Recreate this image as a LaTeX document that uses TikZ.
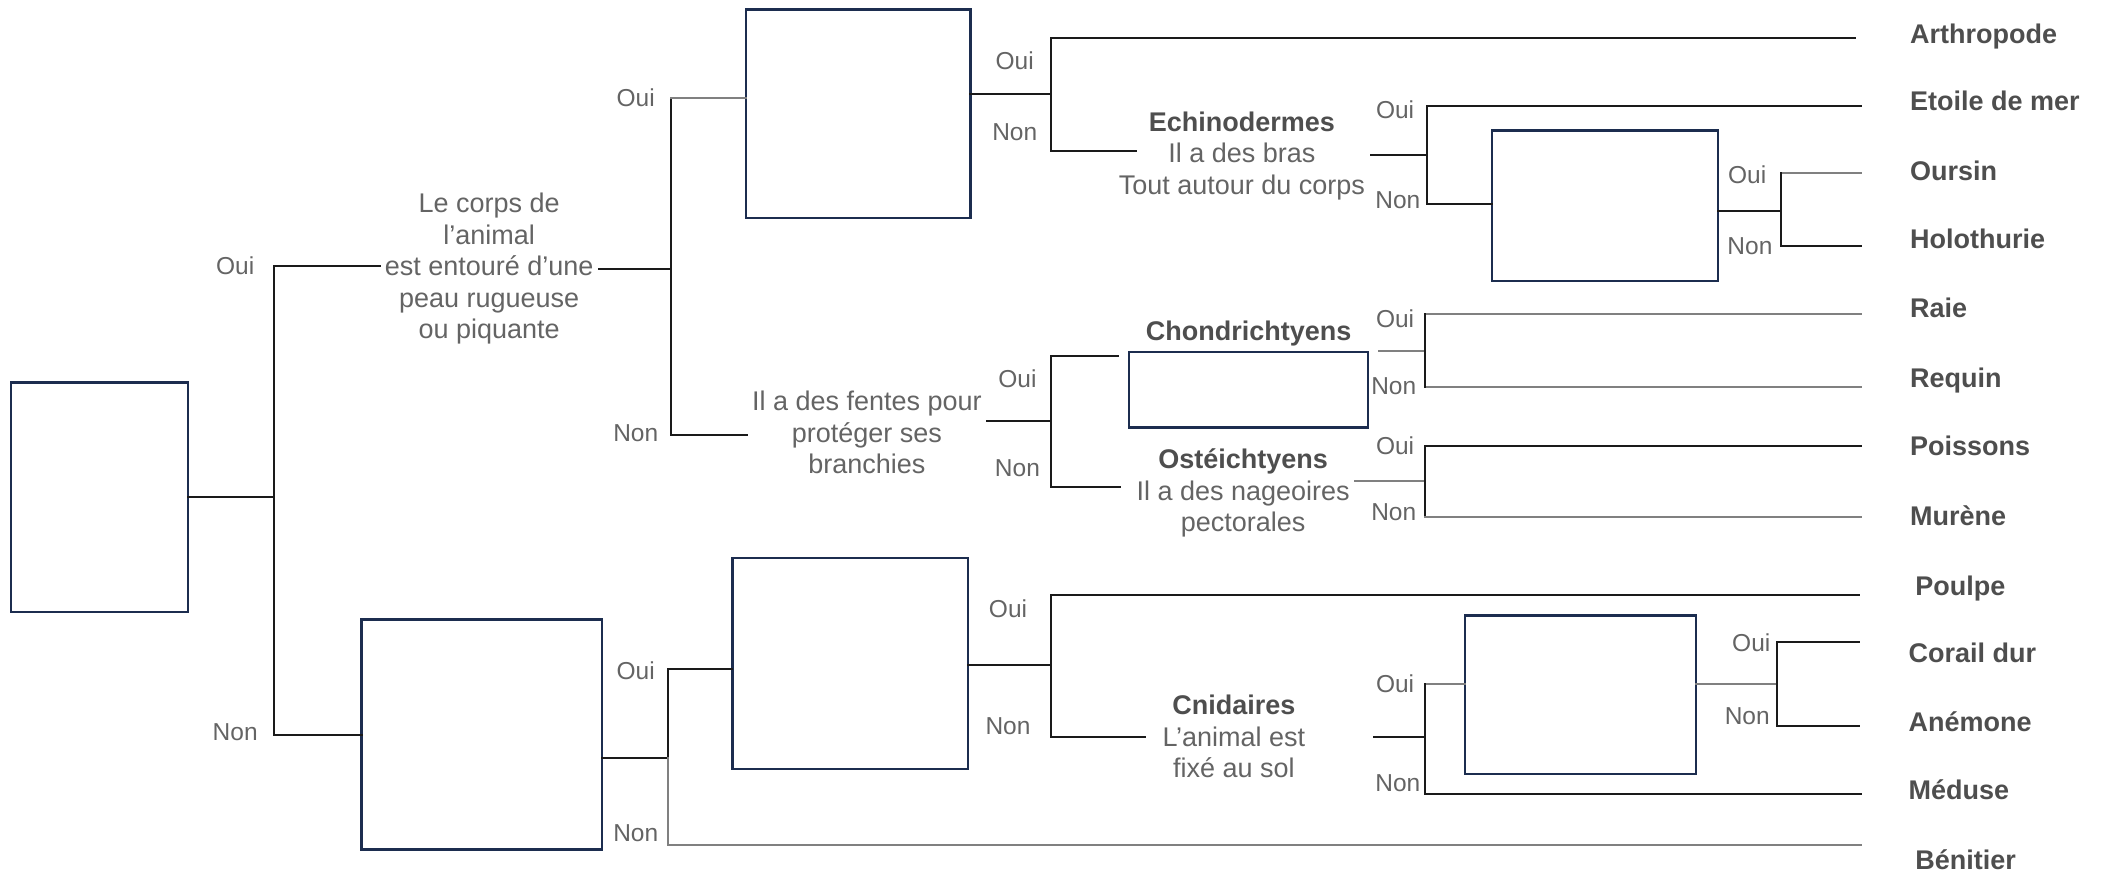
\documentclass[tikz,border=0pt]{standalone}
\usepackage{fontspec}
\setmainfont{Liberation Sans}
\definecolor{navy}{HTML}{1C2D4F}
\definecolor{cblk}{HTML}{1A1A1A}
\definecolor{cgry}{HTML}{808080}
\definecolor{tgray}{HTML}{646464}
\definecolor{bgray}{HTML}{4E4E4E}
\begin{document}
\begin{tikzpicture}[x=1.344pt,y=-1.344pt,
  box/.style={draw=navy,line width=2.3pt,inner sep=0pt,outer sep=0pt},
  bx/.style 2 args={minimum width=#1*1.344pt,minimum height=#2*1.344pt},
  ln/.style={draw=cblk,line width=2pt,line cap=rect},
  lgr/.style={draw=cgry,line width=2pt,line cap=rect},
  txt/.style={text=tgray,font=\fontsize{27}{31.5}\selectfont,align=center,inner sep=5pt},
  yn/.style={text=tgray,font=\fontsize{24.5}{28}\selectfont,inner sep=0pt},
  leaf/.style={text=bgray,font=\bfseries\fontsize{27}{31}\selectfont,anchor=base west,inner sep=0pt}
]
\useasboundingbox (0,0) rectangle (1567.7,650.3);

% ---------- boxes ----------
\node[box,bx={132}{171}] (A) at (74,370) {};
\node[box,bx={167}{155}] (B) at (638.5,84.5) {};
\node[box,bx={168}{112}] (C) at (1194,153) {};
\node[box,bx={178}{56}]  (D) at (929,290) {};
\node[box,bx={179}{171}] (E) at (358.5,546.5) {};
\node[box,bx={175}{157}] (F) at (632.5,493.5) {};
\node[box,bx={172}{118}] (G) at (1176,517) {};

% ---------- question texts ----------
\node[txt] (qA) at (364,200) {Le corps de\\l’animal\\est entouré d’une\\peau rugueuse\\ou piquante};
\node[txt] (qF) at (645,322) {Il a des fentes pour\\protéger ses\\branchies};
\node[txt] (qE) at (924,116) {{\color{bgray}\bfseries Echinodermes}\\Il a des bras\\Tout autour du corps};
\node[txt] (lChon) at (929,248) {{\color{bgray}\bfseries Chondrichtyens}};
\node[txt] (qO) at (925,367) {{\color{bgray}\bfseries Ostéichtyens}\\Il a des nageoires\\pectorales};
\node[txt] (qC) at (918,548) {{\color{bgray}\bfseries Cnidaires}\\L’animal est\\fixé au sol};

% ---------- leaves ----------
\node[leaf] (Arthro) at (1421,32)  {Arthropode};
\node[leaf] (Etoile) at (1421,82)  {Etoile de mer};
\node[leaf] (Oursin) at (1421,134) {Oursin};
\node[leaf] (Holo)   at (1421,185) {Holothurie};
\node[leaf] (Raie)   at (1421,236) {Raie};
\node[leaf] (Requin) at (1421,288) {Requin};
\node[leaf] (Poiss)  at (1421,339) {Poissons};
\node[leaf] (Mur)    at (1421,391) {Murène};
\node[leaf] (Poulpe) at (1425,443) {Poulpe};
\node[leaf] (Corail) at (1420,493) {Corail dur};
\node[leaf] (Anem)   at (1420,544.5) {Anémone};
\node[leaf] (Med)    at (1420,595) {Méduse};
\node[leaf] (Ben)    at (1425,647) {Bénitier};

% ---------- junction coordinates ----------
\coordinate (jA) at (204,370);
\coordinate (jB) at (499,200);  \coordinate (jBt) at (499,73);  \coordinate (jBb) at (499,324);
\coordinate (jC) at (782,70);   \coordinate (jCt) at (782,28);  \coordinate (jCb) at (782,112);
\coordinate (jD) at (1062,115); \coordinate (jDt) at (1062,79); \coordinate (jDb) at (1062,152);
\coordinate (jE) at (1325,157); \coordinate (jEt) at (1325,129);\coordinate (jEb) at (1325,183);
\coordinate (jF) at (782,313);  \coordinate (jFt) at (782,265); \coordinate (jFb) at (782,362);
\coordinate (jG) at (1060,261); \coordinate (jGt) at (1060,234);\coordinate (jGb) at (1060,288);
\coordinate (jH) at (1060,358); \coordinate (jHt) at (1060,332);\coordinate (jHb) at (1060,385);
\coordinate (jI) at (497,564);  \coordinate (jIt) at (497,498); \coordinate (jIb) at (497,629);
\coordinate (jJ) at (782,495);  \coordinate (jJt) at (782,443); \coordinate (jJb) at (782,548);
\coordinate (jK) at (1060,548); \coordinate (jKt) at (1060,509);\coordinate (jKb) at (1060,591);
\coordinate (jL) at (1322,509); \coordinate (jLt) at (1322,478);\coordinate (jLb) at (1322,540);

% free ends
\coordinate (eArthro) at (1380,28);
\coordinate (eEtoile) at (1385,79);
\coordinate (eOursin) at (1385,129);
\coordinate (eHolo)   at (1385,183);
\coordinate (eRaie)   at (1385,234);
\coordinate (eRequin) at (1385,288);
\coordinate (ePoiss)  at (1385,332);
\coordinate (eMur)    at (1385,385);
\coordinate (ePoulpe) at (1383,443);
\coordinate (eCorail) at (1383,478);
\coordinate (eAnem)   at (1383,540);
\coordinate (eMed)    at (1385,591);
\coordinate (eBen)    at (1385,629);
\coordinate (eEchi)   at (845,112);
\coordinate (eChon)   at (832,265);
\coordinate (eOst)    at (833,362);
\coordinate (eCni)    at (852,548);
\coordinate (sCni)    at (1022,548);
\coordinate (sChon)   at (1026,261);
\coordinate (sEchi)   at (1020,115);

% ---------- connectors ----------
\draw[ln] (A.east) -- (jA);
\draw[ln] (qA.west |- 0,198) -| (jA) |- (E.west);

\draw[ln] (qA.east) -- (jB);
\draw[ln] (jBt) -- (jBb) -- (jBb -| qF.west);
\draw[lgr] (jBt) -- (jBt -| B.west);

\draw[ln] (jC -| B.east) -- (jC);
\draw[ln] (eArthro) -- (jCt) -- (jCb) -- (eEchi);

\draw[ln] (sEchi) -- (jD);
\draw[ln] (eEtoile) -- (jDt) -- (jDb) -- (jDb -| C.west);

\draw[ln] (jE -| C.east) -- (jE);
\draw[lgr] (jEt) -- (eOursin);
\draw[ln] (jEt) -- (jEb) -- (eHolo);

\draw[ln] (jF -| qF.east) -- (jF);
\draw[ln] (eChon) -- (jFt) -- (jFb) -- (eOst);

\draw[lgr] (sChon) -- (jG);
\draw[lgr] (eRaie) -- (jGt);
\draw[lgr] (jGb) -- (eRequin);
\draw[ln] (jGt) -- (jGb);

\draw[lgr] (jH -| qO.east) -- (jH);
\draw[ln] (ePoiss) -- (jHt) -- (jHb);
\draw[lgr] (jHb) -- (eMur);

\draw[ln] (jI -| E.east) -- (jI);
\draw[ln] (jIt -| F.west) -- (jIt) -- (jI);
\draw[lgr] (jI) -- (jIb) -- (eBen);

\draw[ln] (jJ -| F.east) -- (jJ);
\draw[ln] (ePoulpe) -- (jJt) -- (jJb) -- (eCni);

\draw[ln] (sCni) -- (jK);
\draw[lgr] (jKt) -- (jKt -| G.west);
\draw[ln] (jKt) -- (jKb) -- (eMed);

\draw[lgr] (jL -| G.east) -- (jL);
\draw[ln] (eCorail) -- (jLt) -- (jLb) -- (eAnem);

% ---------- Oui / Non ----------
\node[yn] (o1) at (175,198) {Oui};   \node[yn] (n1) at (175,545) {Non};
\node[yn] (o2) at (473,73) {Oui};    \node[yn] (n2) at (473,322) {Non};
\node[yn] (o3) at (755,45) {Oui};    \node[yn] (n3) at (755,98) {Non};
\node[yn] (o4) at (1038,82) {Oui};   \node[yn] (n4) at (1040,149) {Non};
\node[yn] (o5) at (1300,130) {Oui};  \node[yn] (n5) at (1302,183) {Non};
\node[yn] (o6) at (757,282) {Oui};   \node[yn] (n6) at (757,348) {Non};
\node[yn] (o7) at (1038,237) {Oui};  \node[yn] (n7) at (1037,287) {Non};
\node[yn] (o8) at (1038,332) {Oui};  \node[yn] (n8) at (1037,381) {Non};
\node[yn] (o9) at (473,499) {Oui};   \node[yn] (n9) at (473,620) {Non};
\node[yn] (o10) at (750,453) {Oui};  \node[yn] (n10) at (750,540) {Non};
\node[yn] (o11) at (1038,509) {Oui}; \node[yn] (n11) at (1040,583) {Non};
\node[yn] (o12) at (1303,478) {Oui}; \node[yn] (n12) at (1300,533) {Non};
\end{tikzpicture}
\end{document}
